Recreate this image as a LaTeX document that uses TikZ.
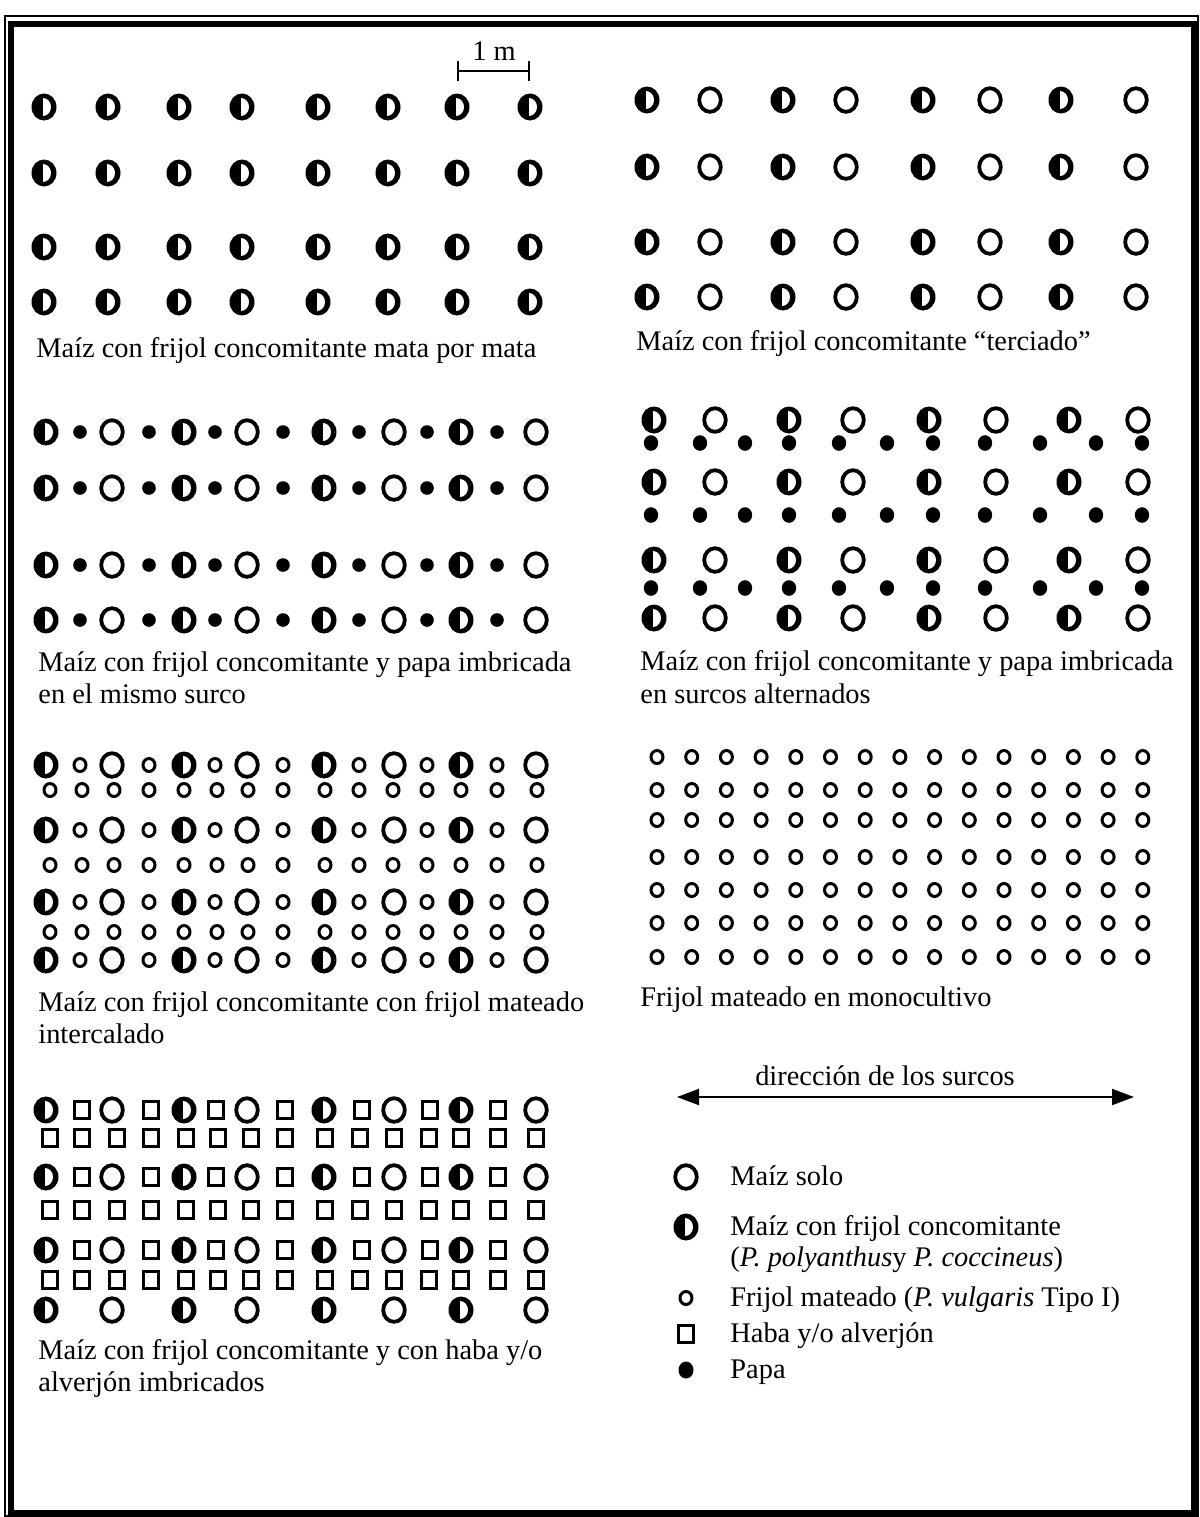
\documentclass[tikz,border=0pt]{standalone}
\usepackage{fontspec}
\setmainfont{Liberation Serif}
\usetikzlibrary{arrows.meta}
\begin{document}
\begin{tikzpicture}[x=0.5pt,y=-0.5pt,
  txt/.style={font=\fontsize{14.2}{16}\selectfont, inner sep=0pt, anchor=base west},
  mf/.pic={\fill[black] (0,0) ellipse [x radius=12.5, y radius=13.5];
           \fill[white] (-1,-9) arc [start angle=-90, end angle=90, x radius=8, y radius=9] -- cycle;},
  ms/.pic={\draw[line width=1.9pt] (0,0) ellipse [x radius=10.8, y radius=11.8];},
  fm/.pic={\draw[line width=1.5pt] (0,0) ellipse [x radius=6, y radius=6.5];},
  hb/.pic={\draw[line width=1.3pt] (-7.5,-8.5) rectangle (7.5,8.5);},
  pp/.pic={\fill[black] (0,0) circle [radius=6.8];},
  ppb/.pic={\fill[black] (0,0) ellipse [x radius=7.2, y radius=7.8];}
]
\useasboundingbox (0,0) rectangle (1200,1517);
\fill[white] (0,0) rectangle (1200,1517);
% frame
\draw[line width=0.75pt] (5,16) rectangle (1198,1516);
\draw[line width=3pt] (10.5,24) rectangle (1193.5,1512.5);

% scale bar
\coordinate (sbL) at (457,71);
\coordinate (sbR) at (530,71);
\draw[line width=0.9pt, {Bar[width=10pt]}-{Bar[width=10pt]}] (sbL) -- (sbR);
\node[txt, anchor=base] (scl) at (494,60) {1 m};

% panel 1
\foreach \x in {44,108,179,242,318,388,457,530}
  \foreach \y in {107,173,247,302}
    \pic at (\x,\y) {mf};
\node[txt] (c1) at (36,357) {Maíz con frijol concomitante mata por mata};

% panel 2
\foreach \y in {100,167,242,297} {
  \foreach \x in {647,783,923,1061} \pic at (\x,\y) {mf};
  \foreach \x in {710,846,990,1136} \pic at (\x,\y) {ms};
}
\node[txt] (c2) at (636,350) {Maíz con frijol concomitante “terciado”};

% panel 3
\foreach \y in {432,488,565,620} {
  \foreach \x in {46,184,324,461} \pic at (\x,\y) {mf};
  \foreach \x in {112,247,394,536} \pic at (\x,\y) {ms};
  \foreach \x in {80,149,215,283,359,427,497} \pic at (\x,\y) {pp};
}
\node[txt] (c3a) at (38,671) {Maíz con frijol concomitante y papa imbricada};
\node[txt] (c3b) at (38,703) {en el mismo surco};

% panel 4
\foreach \y in {420,482,560,618} {
  \foreach \x in {654,789,929,1069} \pic at (\x,\y) {mf};
  \foreach \x in {715,853,996,1138} \pic at (\x,\y) {ms};
}
\foreach \y in {443,515,588}
  \foreach \x in {651,700,745,789,839,887,933,985,1040,1096,1142}
    \pic at (\x,\y) {ppb};
\node[txt] (c4a) at (640,670) {Maíz con frijol concomitante y papa imbricada};
\node[txt] (c4b) at (640,703) {en surcos alternados};

% panel 5
\foreach \y in {765,830,902,960} {
  \foreach \x in {46,184,324,461} \pic at (\x,\y) {mf};
  \foreach \x in {112,247,394,536} \pic at (\x,\y) {ms};
  \foreach \x in {80,149,215,283,359,427,497} \pic at (\x,\y) {fm};
}
\foreach \y in {790,865,932}
  \foreach \x in {50,82,114,149,184,217,248,283,325,359,393,427,461,497,537}
    \pic at (\x,\y) {fm};
\node[txt] (c5a) at (38,1011) {Maíz con frijol concomitante con frijol mateado};
\node[txt] (c5b) at (38,1043) {intercalado};

% panel 6
\foreach \i in {0,...,14}
  \foreach \y in {757,790,820,857,890,923,957}
    \pic at ({657+34.7*\i},\y) {fm};
\node[txt] (c6) at (640,1006) {Frijol mateado en monocultivo};

% panel 7
\foreach \y in {1110,1177,1250} {
  \foreach \x in {46,184,324,461} \pic at (\x,\y) {mf};
  \foreach \x in {112,247,394,536} \pic at (\x,\y) {ms};
  \foreach \x in {82,151,216,285,362,430,498} \pic at (\x,\y) {hb};
}
\foreach \y in {1138,1210,1280}
  \foreach \x in {50,82,117,151,186,218,251,285,325,360,394,429,461,498,536}
    \pic at (\x,\y) {hb};
\foreach \x in {46,184,324,461} \pic at (\x,1310) {mf};
\foreach \x in {112,247,394,536} \pic at (\x,1310) {ms};
\node[txt] (c7a) at (38,1359) {Maíz con frijol concomitante y con haba y/o};
\node[txt] (c7b) at (38,1391) {alverjón imbricados};

% direction arrow
\node[txt, anchor=base] (dir) at (885,1085) {dirección de los surcos};
\coordinate (arL) at (677,1097);
\coordinate (arR) at (1134,1097);
\draw[line width=1pt, {Triangle[length=11pt,width=8pt]}-{Triangle[length=11pt,width=8pt]}] (arL) -- (arR);

% legend
\pic at (686,1177) {ms};
\node[txt] (l1) at (730,1185) {Maíz solo};
\pic at (686,1227) {mf};
\node[txt] (l2a) at (730,1235) {Maíz con frijol concomitante};
\node[txt] (l2b) at (730,1266) {(\textit{P. polyanthus}y \textit{P. coccineus})};
\pic at (686,1298) {fm};
\node[txt] (l3) at (730,1306) {Frijol mateado (\textit{P. vulgaris} Tipo I)};
\pic at (686,1334) {hb};
\node[txt] (l4) at (730,1342) {Haba y/o alverjón};
\fill[black] (686,1370) ellipse [x radius=7.5, y radius=8.5];
\node[txt] (l5) at (730,1378) {Papa};
\end{tikzpicture}
\end{document}
